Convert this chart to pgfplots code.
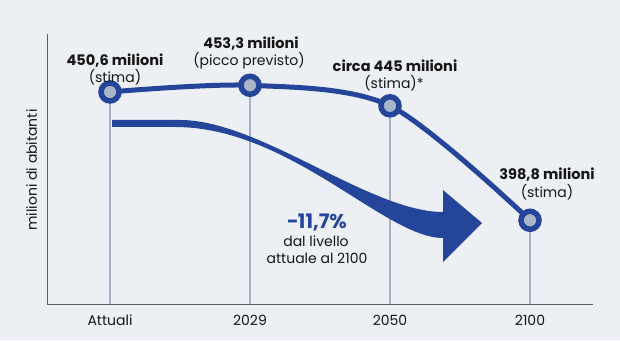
\documentclass[border=0pt]{standalone}
\usepackage{pgfplots}
\pgfplotsset{compat=1.18}
\usepackage{fontspec}
\setmainfont{Poppins}
\definecolor{bg}{HTML}{ECEFF3}
\definecolor{navy}{HTML}{25459A}
\definecolor{guide}{HTML}{A6B2C3}
\definecolor{dotfill}{HTML}{A9B5C8}
\definecolor{axgray}{HTML}{5A5F66}
\definecolor{ink}{HTML}{161616}
\newcommand\fb{\fontsize{14.5}{17}\selectfont\bfseries}
\newcommand\fr{\fontsize{14}{17}\selectfont}
\begin{document}
\begin{tikzpicture}
\fill[bg] (-47pt,-36pt) rectangle (573pt,304pt);
\begin{axis}[
  at={(0pt,0pt)}, anchor=south west,
  width=546pt, height=270pt, scale only axis,
  xmin=-0.45, xmax=3.45, ymin=365, ymax=474,
  axis x line*=bottom, axis y line*=left,
  x axis line style={-, draw=axgray, line width=1pt},
  y axis line style={-, draw=axgray, line width=1pt},
  xtick={0,1,2,3}, xticklabels={Attuali,2029,2050,2100},
  ytick=\empty, major tick length=0pt,
  xticklabel style={font=\fr, text=ink, anchor=base, yshift=-21pt},
]
\addplot[ycomb, guide, line width=1.2pt, mark=none] coordinates {(0,450.6)(1,453.3)(2,445)(3,398.8)};
\addplot[navy, line width=5pt, smooth, tension=0.5, mark=*, mark size=9pt,
  mark options={draw=navy, fill=dotfill, line width=5.5pt}] coordinates {(0,450.6)(1,453.3)(2,445)(3,398.8)};
\end{axis}
% decorative trend arrow
\fill[navy] (65pt,184pt) -- (133pt,184pt) .. controls (213pt,184pt) and (323pt,92pt) .. (396pt,92pt)
  -- (396pt,114pt) -- (435pt,81pt) -- (396pt,42pt) -- (396pt,66pt)
  .. controls (338pt,66pt) and (243pt,177pt) .. (128pt,177pt) -- (65pt,177pt) -- cycle;
% labels
\node[font=\fb, text=ink, anchor=base] at (68pt,238pt) {450,6 milioni};
\node[font=\fr, text=ink, anchor=base] at (68pt,221pt) {(stima)};
\node[font=\fb, text=ink, anchor=base] at (204pt,255pt) {453,3 milioni};
\node[font=\fr, text=ink, anchor=base] at (202pt,238pt) {(picco previsto)};
\node[font=\fb, text=ink, anchor=base] at (348pt,232pt) {circa 445 milioni};
\node[font=\fr, text=ink, anchor=base] at (347pt,215pt) {(stima)*};
\node[font=\fb, text=ink, anchor=base] at (500pt,124pt) {398,8 milioni};
\node[font=\fr, text=ink, anchor=base] at (500pt,106pt) {(stima)};
\node[font=\fontsize{20}{22}\selectfont\bfseries, text=navy, anchor=base] at (270pt,75pt) {−11,7\%};
\node[font=\fr, text=ink, anchor=base] at (269pt,58pt) {dal livello};
\node[font=\fr, text=ink, anchor=base] at (270pt,41pt) {attuale al 2100};
\node[font=\fr, text=ink, rotate=90, anchor=base] at (-10pt,134pt) {milioni di abitanti};
\end{tikzpicture}
\end{document}
